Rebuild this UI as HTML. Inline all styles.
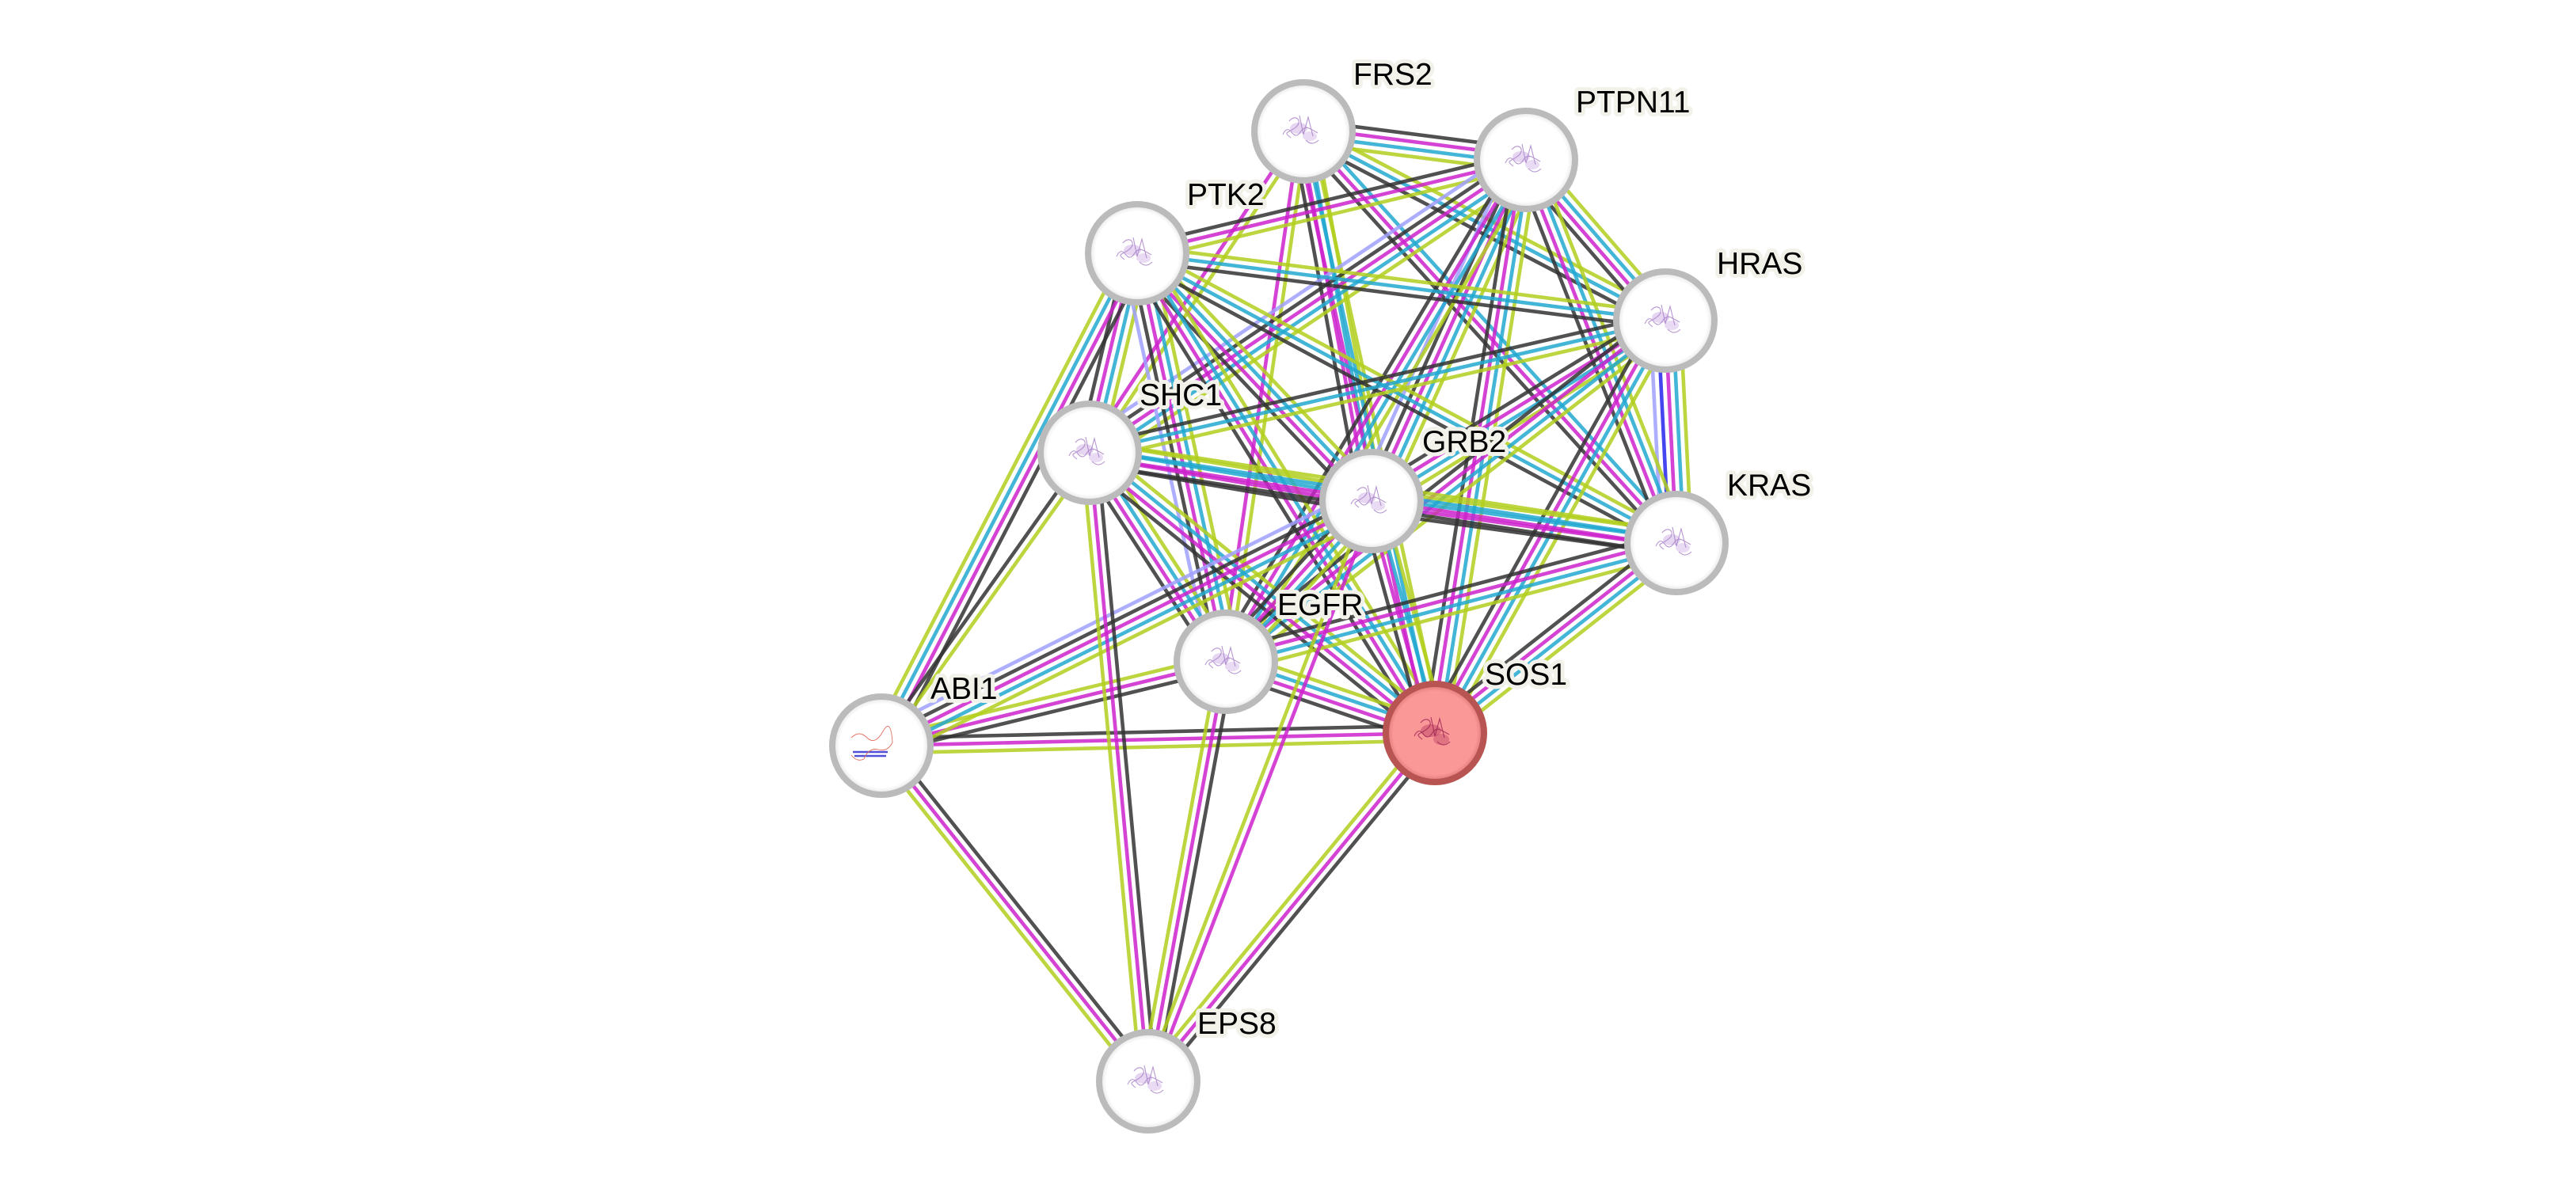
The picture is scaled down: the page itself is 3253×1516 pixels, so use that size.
<!DOCTYPE html>
<html>
<head>
<meta charset="utf-8">
<style>
html,body{margin:0;padding:0;background:#ffffff;width:3253px;height:1516px;overflow:hidden;}
svg{display:block;}
.lbl{font-family:"Liberation Sans",Arial,sans-serif;font-size:39px;fill:#000;stroke:#f2f2eb;stroke-width:10px;stroke-linejoin:round;paint-order:stroke fill;}
</style>
</head>
<body>
<svg id="s" width="3253" height="1516" viewBox="0 0 3253 1516" xmlns="http://www.w3.org/2000/svg">
<defs>
<radialGradient id="gw" cx="50%" cy="50%" r="50%">
<stop offset="0.85" stop-color="#ffffff"/>
<stop offset="1" stop-color="#e0e0e0"/>
</radialGradient>
<radialGradient id="gr" cx="50%" cy="50%" r="50%">
<stop offset="0.85" stop-color="#fa9797"/>
<stop offset="1" stop-color="#d97472"/>
</radialGradient>
<g id="prot">
<ellipse cx="-6" cy="-4" rx="11" ry="7" fill="#c8a4e0" opacity="0.45"/>
<ellipse cx="8" cy="6" rx="9" ry="6" fill="#c8a4e0" opacity="0.4"/>
<path d="M-26,4 q5,-11 11,-3 t11,0 t11,-5 t11,6 M-18,-13 c8,-10 18,0 8,8 s-16,5 -6,13 M-5,-20 l5,24 l6,-22 l6,24 M3,11 q8,8 16,0" fill="none" stroke="#a47cc6" stroke-width="1.1" opacity="0.8"/>
</g>
</defs>
<g id="edges" stroke-width="4.6" stroke-opacity="0.85" fill="none"></g>
<g id="nodes">
<circle cx="1646" cy="166" r="62" fill="url(#gw)" stroke="#bbbbbb" stroke-width="8"/>
<circle cx="1927" cy="202" r="62" fill="url(#gw)" stroke="#bbbbbb" stroke-width="8"/>
<circle cx="1436" cy="320" r="62" fill="url(#gw)" stroke="#bbbbbb" stroke-width="8"/>
<circle cx="2103" cy="405" r="62" fill="url(#gw)" stroke="#bbbbbb" stroke-width="8"/>
<circle cx="1376" cy="572" r="62" fill="url(#gw)" stroke="#bbbbbb" stroke-width="8"/>
<circle cx="1732" cy="633" r="62" fill="url(#gw)" stroke="#bbbbbb" stroke-width="8"/>
<circle cx="2117" cy="686" r="62" fill="url(#gw)" stroke="#bbbbbb" stroke-width="8"/>
<circle cx="1548" cy="836" r="62" fill="url(#gw)" stroke="#bbbbbb" stroke-width="8"/>
<circle cx="1812" cy="926" r="62" fill="url(#gr)" stroke="#b85452" stroke-width="8"/>
<circle cx="1113" cy="942" r="62" fill="url(#gw)" stroke="#bbbbbb" stroke-width="8"/>
<circle cx="1450" cy="1366" r="62" fill="url(#gw)" stroke="#bbbbbb" stroke-width="8"/>
</g>
<g id="prots">
<use href="#prot" x="1646" y="166"/>
<use href="#prot" x="1927" y="202"/>
<use href="#prot" x="1436" y="320"/>
<use href="#prot" x="2103" y="405"/>
<use href="#prot" x="1376" y="572"/>
<use href="#prot" x="1732" y="633"/>
<use href="#prot" x="2117" y="686"/>
<use href="#prot" x="1548" y="836"/>
<use href="#prot" x="1450" y="1366"/>
<g transform="translate(1812,926)">
<ellipse cx="-5" cy="-3" rx="13" ry="8" fill="#b0305a" opacity="0.4"/>
<ellipse cx="8" cy="8" rx="10" ry="7" fill="#b0305a" opacity="0.35"/>
<path d="M-26,4 q5,-11 11,-3 t11,0 t11,-5 t11,6 M-18,-13 c8,-10 18,0 8,8 s-16,5 -6,13 M-5,-20 l5,24 l6,-22 l6,24 M3,11 q8,8 16,0" fill="none" stroke="#9a1f50" stroke-width="1.1" opacity="0.8"/>
</g>
<g transform="translate(1113,942)">
<path d="M-36,8 l44,0 M-34,13 l40,0" stroke="#5050d8" stroke-width="2.5" fill="none"/>
<path d="M-38,-10 q10,-10 20,0 t20,-8 t12,14 q-6,12 -18,9 t-18,12 q-9,4 -16,-5" stroke="#e07060" stroke-width="0.9" fill="none"/>
</g>
</g>
<g id="labels">
<text class="lbl" x="1709" y="107">FRS2</text>
<text class="lbl" x="1990" y="142">PTPN11</text>
<text class="lbl" x="1499" y="259">PTK2</text>
<text class="lbl" x="2168" y="346">HRAS</text>
<text class="lbl" x="1439" y="512">SHC1</text>
<text class="lbl" x="1796" y="571">GRB2</text>
<text class="lbl" x="2181" y="626">KRAS</text>
<text class="lbl" x="1613" y="777">EGFR</text>
<text class="lbl" x="1875" y="865">SOS1</text>
<text class="lbl" x="1175" y="883">ABI1</text>
<text class="lbl" x="1512" y="1306">EPS8</text>
</g>
</svg>
<script>
(function(){
var N={FRS2:[1646,166],PTPN11:[1927,202],PTK2:[1436,320],HRAS:[2103,405],SHC1:[1376,572],GRB2:[1732,633],KRAS:[2117,686],EGFR:[1548,836],SOS1:[1812,926],ABI1:[1113,942],EPS8:[1450,1366]};
var COL={L:'#a0a0ff',B:'#2626ee',K:'#333333',M:'#cc22cc',C:'#22a8d0',Y:'#b2cf1e'};
var E=[
["HRAS","KRAS","LBMCY"],
["PTPN11","FRS2","KMCY"],
["FRS2","SHC1","MY"],
["FRS2","EGFR","MY"],
["FRS2","GRB2","KMCY"],
["FRS2","SOS1","MCY"],
["FRS2","HRAS","KCY"],
["FRS2","KRAS","KMC"],
["PTPN11","PTK2","KMY"],
["PTPN11","HRAS","KMCY"],
["PTPN11","KRAS","KMCY"],
["PTPN11","SHC1","LKMCY"],
["PTPN11","GRB2","LKMCY"],
["PTPN11","EGFR","KMCY"],
["PTPN11","SOS1","KMCY"],
["PTK2","HRAS","KCY"],
["PTK2","SHC1","KMCY"],
["PTK2","GRB2","KMCY"],
["PTK2","KRAS","KCY"],
["PTK2","EGFR","LKMCY"],
["PTK2","SOS1","KMCY"],
["HRAS","SHC1","KCY"],
["HRAS","GRB2","KMCY"],
["HRAS","EGFR","KMCY"],
["HRAS","SOS1","KMCY"],
["SHC1","GRB2","KMCY"],
["SHC1","KRAS","KMCY"],
["SHC1","EGFR","KMCY"],
["SHC1","SOS1","KMCY"],
["GRB2","KRAS","KMCY"],
["GRB2","EGFR","KMCY"],
["GRB2","SOS1","KMCY"],
["KRAS","EGFR","KMCY"],
["KRAS","SOS1","KMCY"],
["EGFR","SOS1","KMCY"],
["EPS8","ABI1","KMY"],
["SOS1","ABI1","KMY"],
["ABI1","EGFR","KMY"],
["GRB2","ABI1","LKMCY"],
["ABI1","PTK2","KMCY"],
["SHC1","ABI1","KY"],
["EPS8","SHC1","KMY"],
["EPS8","EGFR","KMY"],
["EPS8","GRB2","MY"],
["EPS8","SOS1","KMY"]
];
var g=document.getElementById('edges');
var ns='http://www.w3.org/2000/svg';
var sp=9.5;
for(var e=0;e<E.length;e++){
  var a=N[E[e][0]],b=N[E[e][1]],cs=E[e][2];
  var dx=b[0]-a[0],dy=b[1]-a[1],l=Math.sqrt(dx*dx+dy*dy);
  var nx=-dy/l,ny=dx/l,k=cs.length;
  for(var i=0;i<k;i++){
    var o=((k-1)/2-i)*sp;
    var ln=document.createElementNS(ns,'line');
    ln.setAttribute('x1',(a[0]+nx*o).toFixed(1));
    ln.setAttribute('y1',(a[1]+ny*o).toFixed(1));
    ln.setAttribute('x2',(b[0]+nx*o).toFixed(1));
    ln.setAttribute('y2',(b[1]+ny*o).toFixed(1));
    ln.setAttribute('stroke',COL[cs[i]]);
    g.appendChild(ln);
  }
}
})();
</script>
</body>
</html>
